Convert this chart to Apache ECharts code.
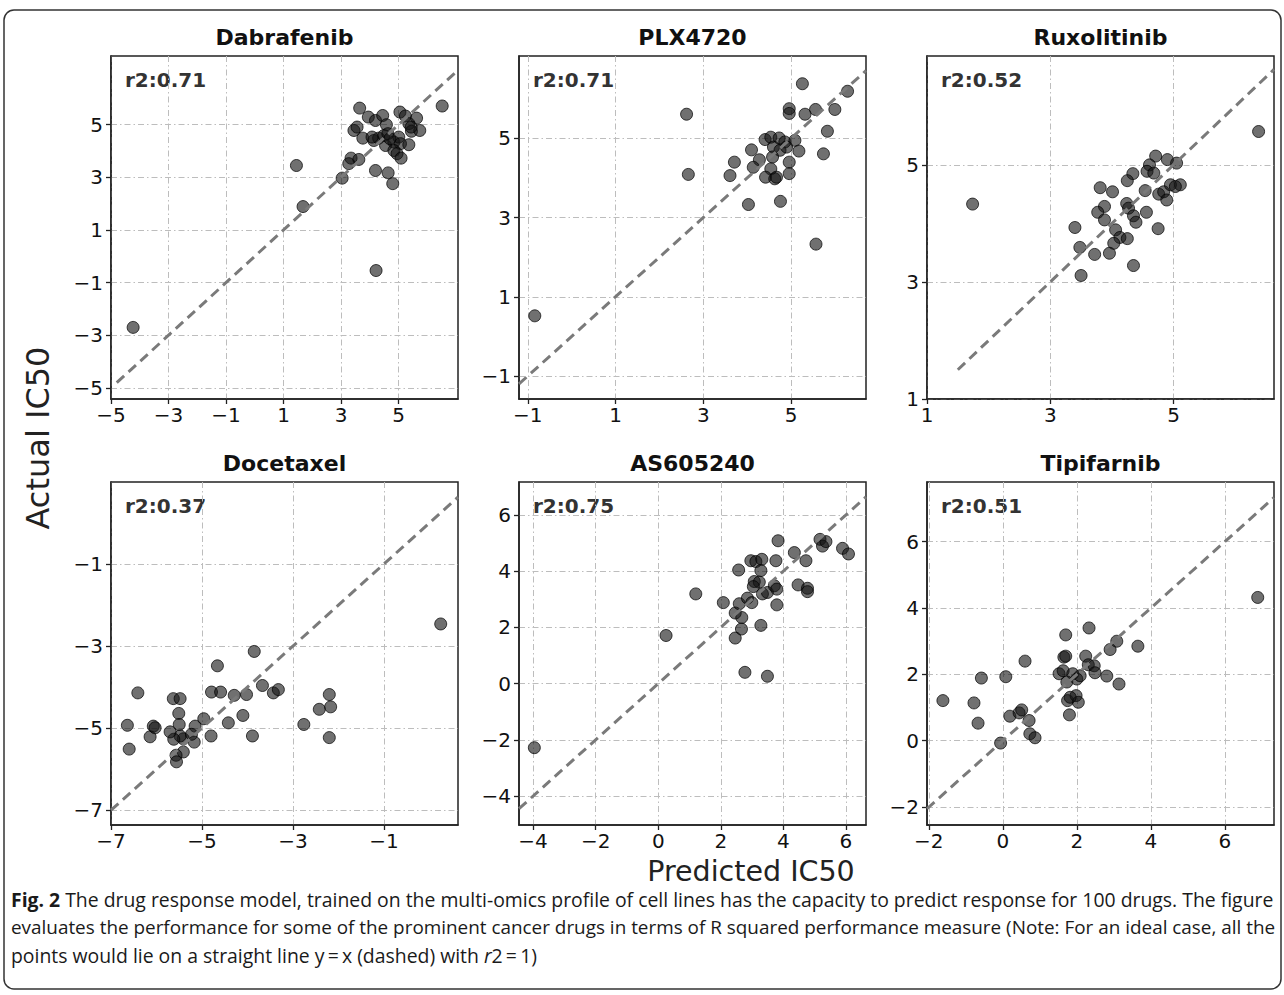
<!DOCTYPE html>
<html>
<head>
<meta charset="utf-8">
<script src="https://cdn.jsdelivr.net/npm/echarts@6/dist/echarts.min.js"></script>
<style>
html,body{margin:0;padding:0;background:#fff;}
#chart{width:1284px;height:995px;}
</style>
</head>
<body>
<div id="chart"></div>
<script>
// ---- data ----
const drugNames = ['Dabrafenib', 'PLX4720', 'Ruxolitinib', 'Docetaxel', 'AS605240', 'Tipifarnib'];
const r2Labels = ['r2:0.71', 'r2:0.71', 'r2:0.52', 'r2:0.37', 'r2:0.75', 'r2:0.51'];

const dabrafenibPred   = [6.52, 3.65, 3.95, 4.2, 4.45, 4.58, 5.05, 5.24, 5.63, 5.36, 3.45, 3.56, 3.76, 4.14, 4.31, 4.49, 4.63, 4.55, 4.84, 5.01, 5.07, 4.84, 4.95, 5.09, 5.36, 5.45, 5.74, 5.44, 3.35, 3.62, 3.27, 4.2, 4.64, 4.8, 3.04, 1.45, 1.68, 4.22, -4.23, 4.08, 4.7];
const dabrafenibActual = [5.71, 5.63, 5.29, 5.16, 5.35, 5.0, 5.48, 5.33, 5.25, 5.04, 4.78, 4.91, 4.49, 4.4, 4.49, 4.59, 4.66, 4.21, 4.34, 4.53, 4.28, 4.02, 3.9, 3.73, 4.24, 4.75, 4.78, 4.91, 3.73, 3.68, 3.52, 3.26, 3.17, 2.76, 2.97, 3.45, 1.89, -0.54, -2.7, 4.53, 4.47];

const plx4720Pred   = [5.26, 2.62, 2.66, 4.96, 4.96, 5.32, 5.56, 6.0, 6.29, 5.83, 5.74, 5.57, 4.41, 4.54, 4.73, 4.86, 5.09, 5.18, 4.96, 4.96, 4.6, 4.75, 4.58, 4.54, 4.42, 4.63, 4.67, 4.1, 4.28, 4.14, 3.71, 3.61, 4.03, 4.76, -0.84, 4.9];
const plx4720Actual = [6.38, 5.61, 4.09, 5.75, 5.63, 5.61, 5.73, 5.73, 6.19, 5.18, 4.61, 2.33, 4.97, 5.03, 5.01, 4.91, 4.95, 4.68, 4.4, 4.11, 4.78, 4.7, 4.53, 4.23, 4.02, 3.98, 4.02, 4.71, 4.46, 4.27, 4.4, 4.06, 3.33, 3.41, 0.52, 4.78];

const ruxolitinibPred   = [6.38, 1.74, 4.71, 4.9, 5.05, 4.61, 4.57, 4.68, 4.34, 4.25, 3.81, 4.01, 4.54, 4.76, 4.84, 4.89, 4.95, 5.11, 5.03, 4.24, 3.88, 3.77, 4.27, 4.35, 4.56, 3.88, 4.39, 3.4, 4.06, 4.75, 4.13, 4.25, 4.03, 3.48, 3.72, 3.96, 4.35, 3.5];
const ruxolitinibActual = [5.57, 4.33, 5.15, 5.09, 5.03, 5.0, 4.89, 4.86, 4.85, 4.73, 4.61, 4.54, 4.56, 4.5, 4.54, 4.4, 4.66, 4.66, 4.63, 4.34, 4.29, 4.19, 4.26, 4.13, 4.19, 4.06, 4.02, 3.93, 3.89, 3.91, 3.76, 3.74, 3.66, 3.59, 3.47, 3.49, 3.28, 3.11];

const docetaxelPred   = [0.25, -3.85, -4.66, -6.41, -5.63, -5.48, -5.51, -5.5, -4.79, -4.59, -4.29, -4.02, -3.67, -3.43, -3.32, -2.2, -2.42, -2.17, -2.2, -2.76, -4.1, -4.42, -3.89, -4.8, -4.96, -5.15, -5.17, -5.41, -5.48, -5.62, -5.7, -5.41, -5.57, -5.56, -6.64, -6.6, -6.14, -6.07, -6.03, -5.23];
const docetaxelActual = [-2.46, -3.13, -3.48, -4.14, -4.28, -4.28, -4.64, -4.91, -4.12, -4.12, -4.2, -4.18, -3.96, -4.14, -4.06, -4.18, -4.54, -4.48, -5.23, -4.91, -4.69, -4.87, -5.19, -5.19, -4.77, -4.95, -5.34, -5.26, -5.19, -5.27, -5.09, -5.58, -5.66, -5.82, -4.93, -5.51, -5.21, -4.95, -4.99, -5.15];

const as605240Pred   = [-3.96, 0.25, 1.2, 2.08, 2.46, 2.59, 2.67, 2.66, 2.46, 2.77, 3.49, 3.28, 2.57, 2.96, 3.12, 3.31, 3.28, 3.07, 3.23, 3.04, 2.85, 2.99, 3.33, 3.49, 3.71, 3.79, 3.79, 3.76, 3.83, 4.35, 4.72, 4.47, 4.77, 4.77, 5.17, 5.25, 5.36, 5.89, 6.08];
const as605240Actual = [-2.28, 1.71, 3.19, 2.88, 2.51, 2.84, 2.35, 1.94, 1.62, 0.4, 0.26, 2.07, 4.04, 4.37, 4.34, 4.42, 4.02, 3.63, 3.61, 3.45, 3.04, 2.88, 3.19, 3.24, 3.48, 3.36, 2.8, 4.37, 5.08, 4.66, 4.37, 3.51, 3.39, 3.27, 5.13, 4.89, 5.05, 4.81, 4.61];

const tipifarnibPred   = [6.89, -1.62, -0.78, -0.58, -0.67, 0.08, -0.06, 0.19, 0.44, 0.51, 0.6, 0.71, 0.73, 0.87, 1.7, 1.65, 1.7, 1.52, 1.63, 1.89, 1.73, 2.0, 2.09, 1.75, 1.8, 1.98, 2.04, 1.82, 2.33, 2.24, 2.31, 2.47, 2.49, 2.81, 2.9, 3.08, 3.14, 3.65];
const tipifarnibActual = [4.32, 1.21, 1.14, 1.89, 0.53, 1.93, -0.07, 0.74, 0.84, 0.93, 2.4, 0.61, 0.21, 0.09, 3.19, 2.52, 2.55, 2.02, 2.11, 2.02, 1.77, 1.86, 1.96, 1.21, 0.78, 1.36, 1.16, 1.31, 3.4, 2.55, 2.29, 2.26, 2.05, 1.95, 2.75, 3.0, 1.71, 2.85];

const predicted = [dabrafenibPred, plx4720Pred, ruxolitinibPred, docetaxelPred, as605240Pred, tipifarnibPred];
const actual    = [dabrafenibActual, plx4720Actual, ruxolitinibActual, docetaxelActual, as605240Actual, tipifarnibActual];

// axis value ranges
const xMin = [-5, -1.2, 1, -7, -4.45, -2.05];
const xMax = [7.07, 6.71, 6.63, 0.63, 6.64, 7.33];
const yMin = [-5.42, -1.58, 1, -7.36, -5.03, -2.54];
const yMax = [7.61, 7.08, 6.86, 1.0, 7.17, 7.8];

// identity line y = x extent (data units)
const lineFrom = [-4.8, -1.2, 1.5, -7, -4.45, -2.05];
const lineTo   = [7.07, 6.71, 6.63, 0.63, 6.64, 7.33];

// tick labels
const xTicks = [[-5, -3, -1, 1, 3, 5], [-1, 1, 3, 5], [1, 3, 5], [-7, -5, -3, -1], [-4, -2, 0, 2, 4, 6], [-2, 0, 2, 4, 6]];
const yTicks = [[-5, -3, -1, 1, 3, 5], [-1, 1, 3, 5], [1, 3, 5], [-7, -5, -3, -1], [-4, -2, 0, 2, 4, 6], [-2, 0, 2, 4, 6]];

const xAxisTitle = 'Predicted IC50';
const yAxisTitle = 'Actual IC50';
const captionLines = [
  '{b|Fig. 2} The drug response model, trained on the multi-omics profile of cell lines has the capacity to predict response for 100 drugs. The figure',
  'evaluates the performance for some of the prominent cancer drugs in terms of R squared performance measure (Note: For an ideal case, all the',
  'points would lie on a straight line y\u2009=\u2009x (dashed) with {i|r}2\u2009=\u20091)'
];

// ---- layout ----
const colLeft = [111, 519, 927];
const rowTop = [56, 482];
const boxW = 347, boxH = 343;
const FONT = '"DejaVu Sans", sans-serif';

const fmt = v => (v < 0 ? '\u2212' + Math.abs(v) : String(v));

const grids = [], xAxes = [], yAxes = [], series = [], graphics = [];

for (let i = 0; i < 6; i++) {
  const col = i % 3, row = Math.floor(i / 3);
  const L = colLeft[col], T = rowTop[row];
  grids.push({left: L, top: T, width: boxW, height: boxH, show: true,
    borderColor: '#222', borderWidth: 1.5, backgroundColor: 'transparent', containLabel: false});
  const common = (ticks, margin) => ({
    axisLine: {show: true, onZero: false, lineStyle: {color: '#222', width: 1.5}},
    axisTick: {show: true, inside: false, length: 5, customValues: ticks, lineStyle: {color: '#222', width: 1.3}},
    axisLabel: {show: true, customValues: ticks, formatter: fmt, color: '#111', fontSize: 20, fontFamily: FONT, margin: margin},
    splitLine: {show: true, lineStyle: {color: '#bdbdbd', width: 1, type: [6, 3, 1.5, 3]}},
    minorTick: {show: false}
  });
  xAxes.push(Object.assign({gridIndex: i, type: 'value', min: xMin[i], max: xMax[i]}, common(xTicks[i], 6)));
  yAxes.push(Object.assign({gridIndex: i, type: 'value', min: yMin[i], max: yMax[i]}, common(yTicks[i], 8)));

  series.push({
    type: 'scatter', xAxisIndex: i, yAxisIndex: i,
    data: predicted[i].map((p, k) => [p, actual[i][k]]),
    symbolSize: 12,
    itemStyle: {color: 'rgba(20,20,20,0.76)', borderColor: 'rgba(0,0,0,0.9)', borderWidth: 1},
    z: 3, silent: true
  });
  series.push({
    type: 'line', xAxisIndex: i, yAxisIndex: i,
    data: [[lineFrom[i], lineFrom[i]], [lineTo[i], lineTo[i]]],
    symbol: 'none', clip: true,
    lineStyle: {color: '#7a7a7a', width: 3, type: [10, 6]},
    z: 4, silent: true
  });

  graphics.push({type: 'text', x: L + boxW / 2, y: T - 19, silent: true,
    style: {text: drugNames[i], textAlign: 'center', textVerticalAlign: 'middle',
      font: 'bold 22px ' + FONT, fill: '#111'}});
  graphics.push({type: 'text', x: L + 14, y: T + 24, silent: true,
    style: {text: r2Labels[i], textAlign: 'left', textVerticalAlign: 'middle',
      font: 'bold 20px ' + FONT, fill: '#333'}});
}

// axis titles
graphics.push({type: 'text', x: 38, y: 438, rotation: Math.PI / 2, silent: true,
  style: {text: yAxisTitle, textAlign: 'center', textVerticalAlign: 'middle', font: '32px ' + FONT, fill: '#222'}});
graphics.push({type: 'text', x: 751, y: 871.5, silent: true,
  style: {text: xAxisTitle, textAlign: 'center', textVerticalAlign: 'middle', font: '28.5px ' + FONT, fill: '#222'}});

// caption (sizes tuned so the lines span the figure width, like the justified original)
const CAP_FONT = '"Open Sans", sans-serif';
const capSizes = [19.4, 18.9, 19.4];
captionLines.forEach((t, k) => {
  const s = capSizes[k];
  graphics.push({type: 'text', x: 11, y: 899 + k * 28, silent: true,
    style: {text: t, textAlign: 'left', textVerticalAlign: 'middle',
      fontSize: s, fontFamily: CAP_FONT, fill: '#1a1a1a',
      rich: {
        b: {fontWeight: 'bold', fontSize: s, fontFamily: CAP_FONT, fill: '#1a1a1a'},
        i: {fontStyle: 'italic', fontSize: s, fontFamily: CAP_FONT, fill: '#1a1a1a'}
      }}});
});

// figure frame
graphics.push({type: 'rect', silent: true, z: -1,
  shape: {x: 4, y: 10, width: 1277, height: 979, r: 10},
  style: {fill: 'none', stroke: '#333', lineWidth: 1.5}});

const chart = echarts.init(document.getElementById('chart'), null, {renderer: 'svg', width: 1284, height: 995});
chart.setOption({
  backgroundColor: '#fff',
  animation: false,
  grid: grids,
  xAxis: xAxes,
  yAxis: yAxes,
  series: series,
  graphic: graphics
});
</script>
</body>
</html>
